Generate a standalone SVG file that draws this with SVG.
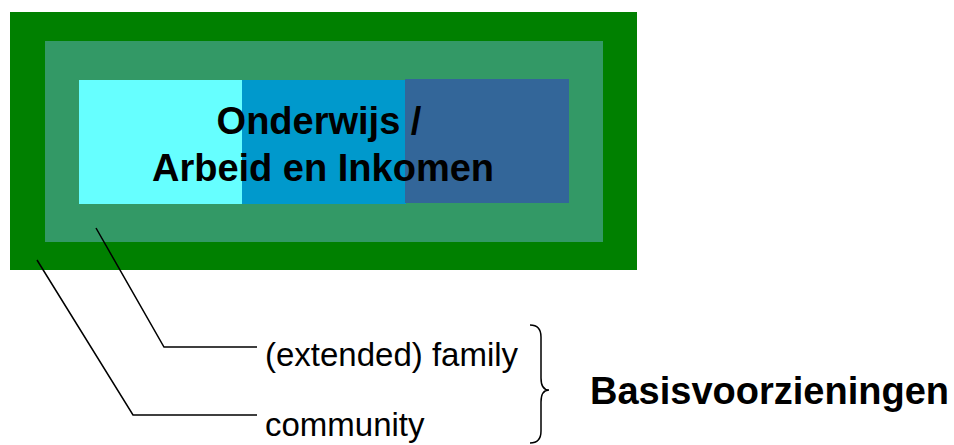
<svg xmlns="http://www.w3.org/2000/svg" width="954" height="445" viewBox="0 0 954 445">
<style>
.t{font-family:"Liberation Sans",Arial,sans-serif;fill:#000}
.b{font-weight:bold;font-size:38px}
.n{font-size:33px}
.c{fill:none;stroke:#000;stroke-width:1.5}
</style>
<rect width="954" height="445" fill="#fff"/>
<g id="community-box"><rect x="10" y="12" width="627" height="258" fill="#008000"/></g>
<g id="family-box"><rect x="45" y="41" width="558" height="201" fill="#339966"/></g>
<g id="core">
<rect x="79" y="80" width="164" height="124" fill="#66FFFF"/>
<rect x="242" y="80" width="164" height="124" fill="#0099CC"/>
<rect x="405" y="79" width="164" height="124" fill="#336699"/>
<text class="t b" x="319" y="134" text-anchor="middle">Onderwijs /</text>
<text class="t b" x="323" y="181" text-anchor="middle">Arbeid en Inkomen</text>
</g>
<g id="connectors">
<polyline class="c" points="96,228 164,347 257,347"/>
<polyline class="c" points="37,260 133,415 257,415"/>
<path class="c" d="M530,325 Q541,325 541,337 L541,378 Q541,390 549,390 Q541,390 541,402 L541,431 Q541,443 530,443"/>
</g>
<g id="labels">
<text class="t n" x="265" y="366">(extended) family</text>
<text class="t n" x="265" y="436">community</text>
<text class="t b" x="590" y="404">Basisvoorzieningen</text>
</g>
</svg>
